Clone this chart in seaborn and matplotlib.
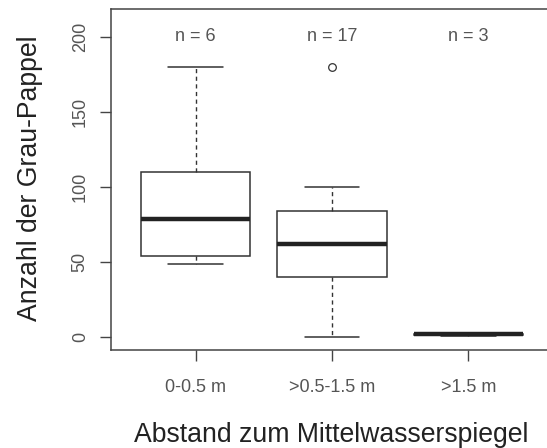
import matplotlib
matplotlib.use("Agg")
import matplotlib.pyplot as plt
import seaborn as sns
import pandas as pd

# ---- data ----
categories = ["0-0.5 m", ">0.5-1.5 m", ">1.5 m"]
group_1 = [49, 52, 60, 98, 114, 180]
group_2 = [0, 10, 25, 35, 40, 45, 50, 58, 62, 68, 75, 80, 84, 88, 95, 100, 180]
group_3 = [1, 2, 3]
y_ticks = [0, 50, 100, 150, 200]
y_label = "Anzahl der Grau-Pappel"
x_label = "Abstand zum Mittelwasserspiegel"

groups = [group_1, group_2, group_3]
df = pd.DataFrame({
    "Abstand": [c for c, g in zip(categories, groups) for _ in g],
    "Anzahl": [v for g in groups for v in g],
})

sns.set_theme(style="white")
plt.rcParams["font.family"] = ["Liberation Sans", "DejaVu Sans"]

W, H = 547, 448
fig = plt.figure(figsize=(W / 100, H / 100), dpi=100)
left, right, top, bottom = 111, 553, 9, 350
ax = fig.add_axes([left / W, 1 - bottom / H, (right - left) / W, (bottom - top) / H])

lc = "#333333"
sns.boxplot(
    data=df, x="Abstand", y="Anzahl", order=categories, ax=ax,
    color="white", linecolor=lc, linewidth=1.1, width=0.8, saturation=1,
    whiskerprops=dict(linestyle=(0, (3, 2.5)), linewidth=1.0, color=lc),
    capprops=dict(linewidth=1.1, color=lc),
    medianprops=dict(linewidth=3.2, color="#222222"),
    flierprops=dict(marker="o", markersize=5.5, markerfacecolor="none",
                    markeredgecolor=lc, markeredgewidth=0.9),
)

ax.set_xlim(-0.62, 2.62)
ax.set_ylim(-8.4, 218.4)
ax.set_yticks(y_ticks)
ax.set_yticklabels([str(t) for t in y_ticks], rotation=90, va="center")

for i, g in enumerate(groups):
    ax.text(i, 200, f"n = {len(g)}", ha="center", va="center",
            fontsize=13, color="#555555")

for s in ax.spines.values():
    s.set_visible(True)
    s.set_color("#444444")
    s.set_linewidth(1.1)

ax.tick_params(axis="both", which="major", length=8, width=1.0, color="#444444",
               labelcolor="#555555", labelsize=13, direction="out")
ax.tick_params(axis="y", pad=8, left=True)
ax.tick_params(axis="x", pad=13, bottom=True)

ax.set_xlabel("")
ax.set_ylabel("")
fig.text((133 + 530) / 2 / W, 1 - 442 / H, x_label, ha="center", va="baseline",
         fontsize=19.2, color="#222222")
fig.text(30 / W, 1 - 178 / H, y_label, ha="center", va="center", rotation=90,
         fontsize=19.2, color="#222222")

fig.savefig("out.png", dpi=100, facecolor="white")
